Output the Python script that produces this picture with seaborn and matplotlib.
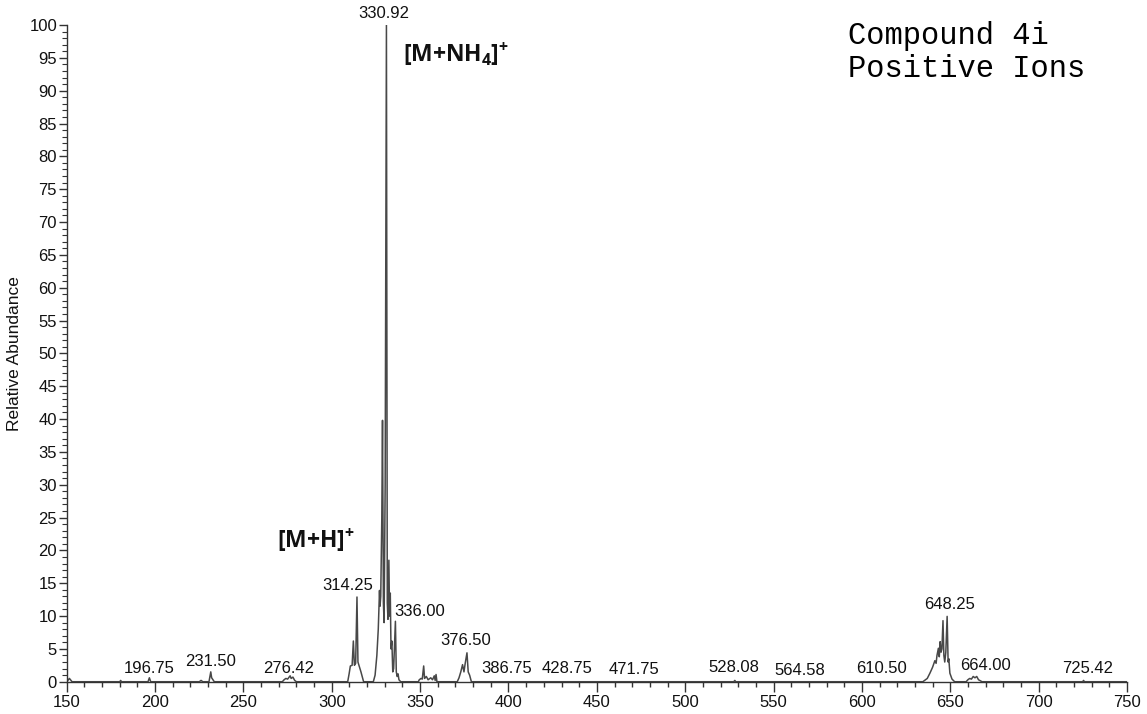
import matplotlib
matplotlib.use("Agg")
import matplotlib.pyplot as plt
import pandas as pd
import seaborn as sns
from matplotlib.ticker import MultipleLocator

# ---- spectrum trace (m/z, relative abundance) ----
mz = [150.0, 151.5, 153.0, 180.0, 180.5, 181.0, 196.0, 196.75, 197.5, 225.0, 226.0, 227.0,
      230.5, 231.0, 231.5, 232.0, 232.5, 233.5, 272.0, 273.0, 274.0, 275.0, 276.42, 277.0,
      278.0, 279.0, 280.0, 309.0, 309.8, 310.5, 311.5, 312.2, 312.8, 313.5, 314.25, 314.8,
      315.5, 316.5, 318.0, 323.5, 324.5, 325.5, 326.3, 327.0, 327.3, 327.7, 328.3, 328.7,
      329.2, 329.6, 330.2, 330.92, 331.4, 331.8, 332.3, 332.7, 333.1, 333.5, 334.0, 334.5,
      335.0, 336.0, 336.5, 337.0, 337.5, 338.0, 339.0, 349.0, 349.5, 350.5, 351.2, 352.0,
      352.5, 353.5, 354.5, 356.0, 357.0, 358.0, 358.5, 359.0, 359.5, 371.0, 372.0, 373.0,
      374.0, 374.8, 375.5, 376.5, 377.2, 378.0, 379.0, 527.5, 528.08, 528.6, 634.5, 637.0,
      638.5, 640.0, 641.3, 642.0, 642.5, 643.3, 643.8, 644.3, 644.8, 645.3, 645.9, 646.4,
      646.9, 647.5, 648.25, 648.8, 649.2, 649.8, 651.0, 652.5, 659.0, 660.0, 661.0, 662.0,
      663.0, 664.0, 665.0, 666.0, 668.0, 725.0, 725.42, 726.0, 750.0]
abundance = [0.0, 0.5, 0.0, 0.0, 0.2, 0.0, 0.0, 0.6, 0.0, 0.0, 0.2, 0.0,
             0.0, 0.8, 1.5, 0.6, 0.4, 0.0, 0.0, 0.3, 0.5, 0.4, 0.9, 0.5,
             0.7, 0.2, 0.0, 0.0, 1.2, 2.4, 2.5, 6.2, 2.5, 2.8, 12.9, 3.0,
             2.4, 1.5, 0.0, 0.0, 1.0, 4.0, 8.0, 13.9, 11.5, 13.0, 25.0, 39.8,
             12.0, 9.0, 30.0, 100.0, 12.0, 9.5, 18.5, 10.0, 13.5, 5.0, 6.2, 1.5,
             2.0, 9.2, 1.5, 0.8, 1.2, 0.3, 0.0, 0.0, 0.3, 0.5, 0.4, 2.4,
             0.5, 0.8, 0.3, 0.6, 0.3, 0.9, 0.2, 1.1, 0.0, 0.0, 0.6, 1.5,
             2.6, 1.5, 2.8, 4.4, 1.5, 1.0, 0.0, 0.0, 0.2, 0.0, 0.0, 0.5,
             1.3, 2.2, 3.2, 2.8, 4.0, 5.1, 3.8, 6.1, 4.5, 5.0, 9.3, 4.0,
             3.0, 4.5, 9.95, 3.0, 3.5, 1.3, 0.4, 0.0, 0.0, 0.3, 0.5, 0.4,
             0.8, 0.6, 0.8, 0.3, 0.0, 0.0, 0.2, 0.0, 0.0]

# ---- peak annotations ----
peak_labels = [196.75, 231.50, 276.42, 314.25, 330.92, 336.00, 376.50, 386.75,
               428.75, 471.75, 528.08, 564.58, 610.50, 648.25, 664.00, 725.42]
label_x = [196.7, 231.5, 275.6, 309.0, 329.6, 350.0, 376.0, 398.7,
           433.0, 471.0, 527.7, 565.0, 611.3, 649.8, 670.0, 727.6]
label_y = [0.9, 2.0, 0.9, 13.5, 100.6, 9.6, 5.1, 0.9,
           0.9, 0.7, 1.0, 0.6, 0.8, 10.6, 1.3, 0.8]

ion_labels = [r"[M+H]$^{+}$", r"[M+NH$_{4}$]$^{+}$"]
ion_x = [269.0, 340.3]
ion_y = [19.5, 93.4]

x_ticks = list(range(150, 751, 50))
y_ticks = list(range(0, 101, 5))

title_lines = ["Compound 4i", "Positive Ions"]

# ---- styling ----
sns.set_theme(style="ticks")
plt.rcParams["font.family"] = ["Liberation Sans", "DejaVu Sans"]
plt.rcParams["mathtext.fontset"] = "custom"
plt.rcParams["mathtext.rm"] = "Open Sans:bold"
plt.rcParams["mathtext.it"] = "Open Sans:bold"
plt.rcParams["mathtext.bf"] = "Open Sans:bold"

fig = plt.figure(figsize=(11.47, 7.14), dpi=100)
ax = fig.add_axes([0.0582, 0.0452, 0.9243, 0.9198])

df = pd.DataFrame({"mz": mz, "abundance": abundance})
sns.lineplot(data=df, x="mz", y="abundance", ax=ax, color="#484848",
             linewidth=1.1, estimator=None, sort=False)

ax.set_xlim(150, 750)
ax.set_ylim(0, 100)
ax.set_xticks(x_ticks)
ax.set_yticks(y_ticks)
ax.xaxis.set_minor_locator(MultipleLocator(10))
ax.yaxis.set_minor_locator(MultipleLocator(1))
ax.tick_params(axis="x", which="major", length=7.5, width=1, color="#333333",
               labelsize=12, pad=2, labelcolor="#111111")
ax.tick_params(axis="x", which="minor", length=3.8, width=1, color="#333333")
ax.tick_params(axis="y", which="major", length=6, width=1, color="#333333",
               labelsize=12, pad=1, labelcolor="#111111")
ax.tick_params(axis="y", which="minor", length=3.5, width=0.8, color="#333333")
for side in ["top", "right"]:
    ax.spines[side].set_visible(False)
for side in ["left", "bottom"]:
    ax.spines[side].set_color("#333333")
    ax.spines[side].set_linewidth(1.0)

ax.set_xlabel("")
ax.set_ylabel("Relative Abundance", fontsize=12.5, color="#111111", labelpad=5)

for v, lx, ly in zip(peak_labels, label_x, label_y):
    ax.text(lx, ly, f"{v:.2f}", ha="center", va="bottom", fontsize=12,
            color="#111111")

for t, lx, ly in zip(ion_labels, ion_x, ion_y):
    ax.text(lx, ly, t, ha="left", va="bottom", fontsize=16.5,
            fontweight="bold", family=["Open Sans", "DejaVu Sans"], color="#111111")

fig.text(0.739, 0.970, "\n".join(title_lines), ha="left", va="top",
         family=["Liberation Mono", "DejaVu Sans Mono"], fontsize=22,
         linespacing=1.12, color="#000000")

fig.savefig("out.png", dpi=100, facecolor="white")
